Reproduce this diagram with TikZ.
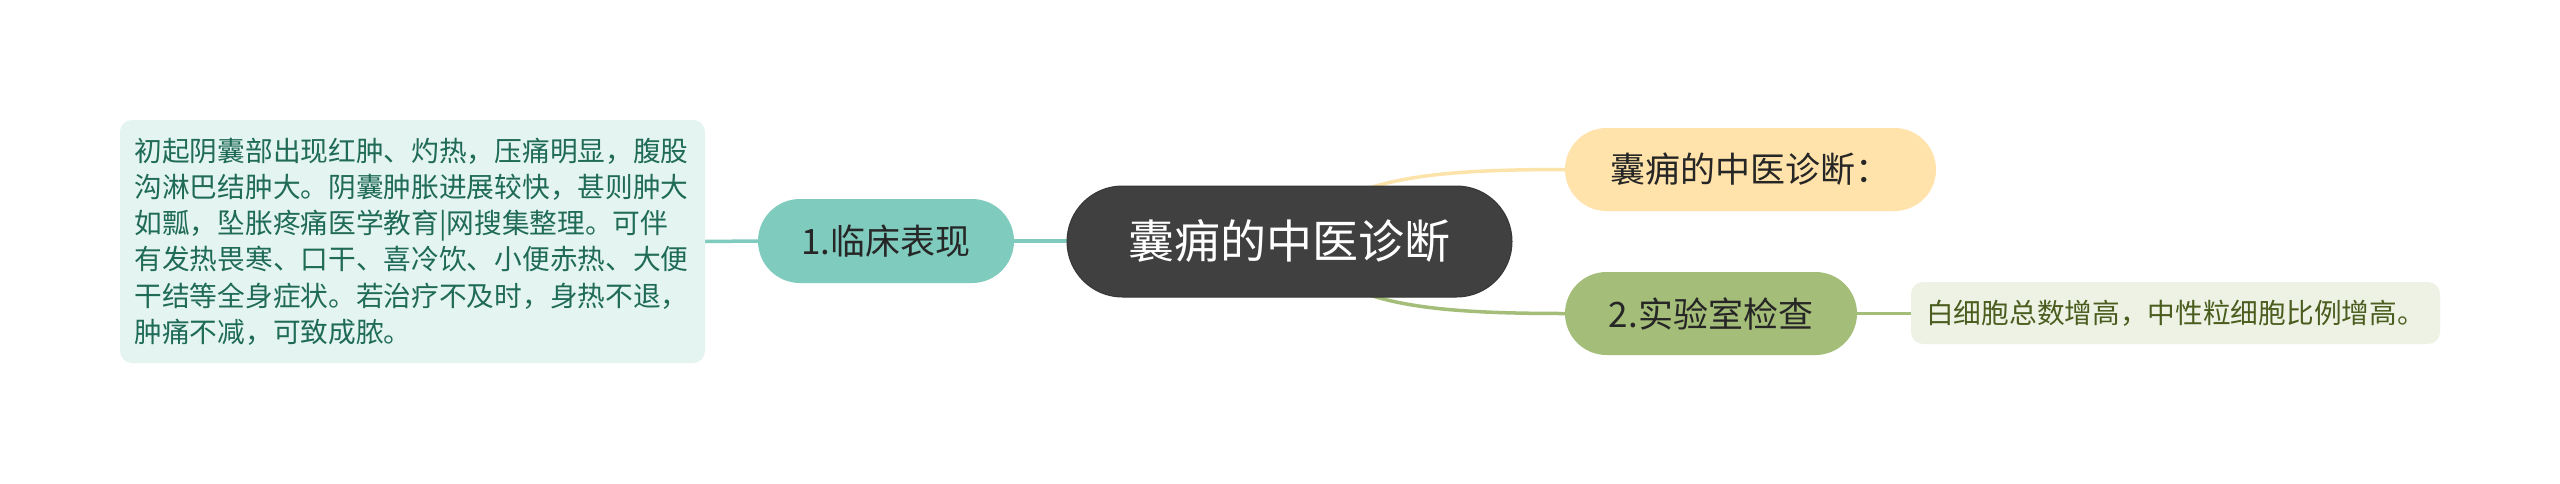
\documentclass[tikz,border=0pt]{standalone}
\usepackage{fontspec}
\setmainfont{Noto Sans CJK SC}
\usetikzlibrary{calc}
\pgfdeclarelayer{bg}
\pgfdeclarelayer{lines}
\pgfsetlayers{bg,lines,main}
\definecolor{tealc}{HTML}{7FCBBD}
\definecolor{leftfill}{HTML}{E4F4F1}
\definecolor{lefttext}{HTML}{1F6B55}
\definecolor{rootfill}{HTML}{404040}
\definecolor{yelfill}{HTML}{FFE3AA}
\definecolor{yelline}{HTML}{FBE3A9}
\definecolor{grnfill}{HTML}{A4BD78}
\definecolor{rightfill}{HTML}{EEF2E5}
\definecolor{righttext}{HTML}{4A5D1E}
\definecolor{nodetext}{HTML}{262626}
\tikzset{
  pill/.style={rectangle, inner sep=0pt, align=center, text=nodetext,
    font=\fontsize{35}{40}\selectfont},
  detailbox/.style={rectangle, rounded corners=12pt, inner ysep=0pt,
    font=\fontsize{27.7}{36.2}\selectfont},
  conn/.style={line width=3.5pt},
}
\begin{document}
\begin{tikzpicture}[x=1pt,y=-1pt]
\begin{pgfonlayer}{bg}
\fill[white] (0,0) rectangle (2560,483);
\end{pgfonlayer}
\useasboundingbox (0,0) rectangle (2560,483);

% nodes
\node[detailbox, fill=leftfill, text=lefttext, align=left, text width=556pt,
      inner xsep=14.5pt, minimum height=243pt] (detail1) at (412.5,241.5)
 {初起阴囊部出现红肿、灼热，压痛明显，腹股\\
  沟淋巴结肿大。阴囊肿胀进展较快，甚则肿大\\
  如瓢，坠胀疼痛医学教育|网搜集整理。可伴\\
  有发热畏寒、口干、喜冷饮、小便赤热、大便\\
  干结等全身症状。若治疗不及时，身热不退，\\
  肿痛不减，可致成脓。};

\node[pill, fill=tealc, minimum width=256pt, minimum height=84pt,
      rounded corners=42pt] (n1) at (886,241) {1.临床表现};

\node[pill, fill=rootfill, draw=rootfill!85!black, line width=1pt, text=white,
      minimum width=445pt, minimum height=111pt, rounded corners=55.5pt,
      font=\fontsize{46}{52}\selectfont] (root) at (1289.5,241.5) {囊痈的中医诊断};

\node[pill, fill=yelfill, minimum width=371pt, minimum height=83pt,
      rounded corners=41.5pt] (n0) at (1750.5,169.5) {囊痈的中医诊断：};

\node[pill, fill=grnfill, minimum width=292pt, minimum height=83pt,
      rounded corners=41.5pt] (n2) at (1711,313.5) {2.实验室检查};

\node[detailbox, fill=rightfill, text=righttext, align=center,
      minimum width=529pt, minimum height=62pt] (detail2) at (2175.5,313)
 {白细胞总数增高，中性粒细胞比例增高。};

% connectors
\begin{pgfonlayer}{lines}
\draw[conn, tealc] (detail1.east) -- (n1.west);
\draw[conn, tealc] (n1.east) -- (root.west |- n1.east);
\draw[conn, yelline] ($(root.north)+(75.5,4)$) .. controls (1410,174) and (1470,169.5) .. (n0.west);
\draw[conn, grnfill] ($(root.south)+(75.5,-4)$) .. controls (1410,309) and (1470,313.5) .. (n2.west);
\draw[conn, grnfill] (n2.east) -- (detail2.west |- n2.east);
\end{pgfonlayer}
\end{tikzpicture}
\end{document}
